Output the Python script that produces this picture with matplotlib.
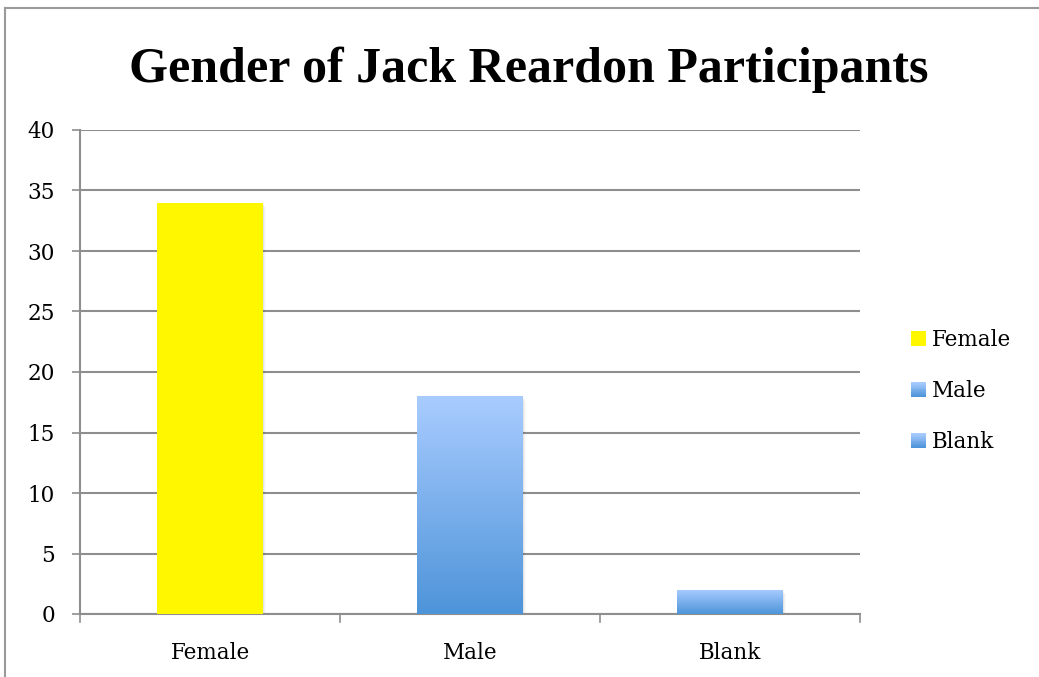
import matplotlib
import matplotlib.pyplot as plt
import numpy as np
from matplotlib.colors import LinearSegmentedColormap
from matplotlib.legend_handler import HandlerBase
from matplotlib.lines import Line2D
from matplotlib.patches import Patch, Rectangle

matplotlib.use("Agg")

CATEGORIES = ["Female", "Male", "Blank"]
COUNTS = [34, 18, 2]
TITLE = "Gender of Jack Reardon Participants"
YTICKS = [0, 5, 10, 15, 20, 25, 30, 35, 40]

YELLOW = "#FFF700"
BLUE_TOP = "#A9CCFF"
BLUE_BOTTOM = "#4E94D9"
GRID = "#8E8E8E"

blue_cmap = LinearSegmentedColormap.from_list("blue_grad", [BLUE_BOTTOM, BLUE_TOP])
SERIF = ["DejaVu Serif"]


class GradientHandler(HandlerBase):
	"""Petit carré de légende rempli en dégradé vertical."""

	def create_artists(self, legend, orig_handle, xdescent, ydescent, width, height, fontsize, trans):
		size = width
		x0 = -xdescent
		y0 = -ydescent + (height - size) / 2
		artists = []
		if orig_handle.get_label() == "Female":
			artists.append(Rectangle((x0, y0), size, size, facecolor=YELLOW, edgecolor="none", transform=trans))
			return artists
		n = 16
		for i in range(n):
			c = blue_cmap(i / (n - 1))
			artists.append(Rectangle((x0, y0 + size * i / n), size, size / n + 0.05,
									 facecolor=c, edgecolor="none", transform=trans))
		return artists


fig = plt.figure(figsize=(10.39, 6.77), dpi=100)
ax = fig.add_axes([80 / 1039, 1 - 614 / 677, 780 / 1039, 484 / 677])

x = np.arange(len(CATEGORIES))
bar_width = 0.405
bars = ax.bar(x, COUNTS, width=bar_width, color=[YELLOW, "none", "none"], edgecolor="none", zorder=3)

# Ombre douce à droite et en bas de chaque barre
for b in bars:
	for k, a in enumerate([0.05, 0.035, 0.02]):
		off = 0.004 * (k + 1)
		ax.add_patch(Rectangle((b.get_x() + off, -0.12 * (k + 1)), b.get_width(), b.get_height(),
							   facecolor="black", alpha=a, edgecolor="none", zorder=2))

# Dégradé vertical pour les barres bleues
gradient = np.linspace(0, 1, 256).reshape(-1, 1)
for b in bars[1:]:
	x0, h = b.get_x(), b.get_height()
	im = ax.imshow(gradient, cmap=blue_cmap, origin="lower", aspect="auto",
				   extent=[x0, x0 + b.get_width(), 0, h], zorder=3)
	im.set_clip_path(b)

ax.set_xlim(-0.5, 2.5)
ax.set_ylim(0, 40)
ax.set_yticks(YTICKS)
ax.set_xticks(x)
ax.set_xticklabels(CATEGORIES, family=SERIF, fontsize=15.5)
for lab in ax.get_yticklabels():
	lab.set_family(SERIF)
	lab.set_fontsize(15.5)
ax.tick_params(axis="y", length=6, width=1.2, color=GRID, pad=12, labelcolor="black")
ax.tick_params(axis="x", length=0, pad=20, labelcolor="black")

# Graduations entre les catégories
for xb in [-0.5, 0.5, 1.5, 2.5]:
	ax.plot([xb, xb], [0, -0.7], color=GRID, lw=1.2, clip_on=False, zorder=4)

ax.grid(axis="y", color=GRID, lw=1.5, zorder=0)
ax.set_axisbelow(True)
for side in ["top", "right"]:
	ax.spines[side].set_visible(False)
ax.spines["left"].set_color(GRID)
ax.spines["left"].set_linewidth(1.5)
ax.spines["bottom"].set_color(GRID)
ax.spines["bottom"].set_linewidth(1.5)

handles = [Patch(label=c) for c in CATEGORIES]
fig.legend(handles=handles, loc="center left", bbox_to_anchor=(911 / 1039, 1 - 391 / 677),
		   frameon=False, handler_map={Patch: GradientHandler()},
		   prop={"family": SERIF, "size": 15.5}, handlelength=0.7, handleheight=0.7,
		   handletextpad=0.28, labelspacing=1.35, borderpad=0, borderaxespad=0)

fig.text(529 / 1039, 1 - 82 / 677, TITLE, ha="center", va="baseline",
		 family=["Liberation Serif"], fontsize=36, fontweight="bold")

# Cadre du graphique
fig.add_artist(Line2D([5 / 1039, 1], [1 - 8 / 677, 1 - 8 / 677], color="#9A9A9A", lw=1.5))
fig.add_artist(Line2D([5 / 1039, 5 / 1039], [0, 1 - 8 / 677], color="#9A9A9A", lw=1.5))

fig.savefig("out.png", dpi=100)
plt.close(fig)
